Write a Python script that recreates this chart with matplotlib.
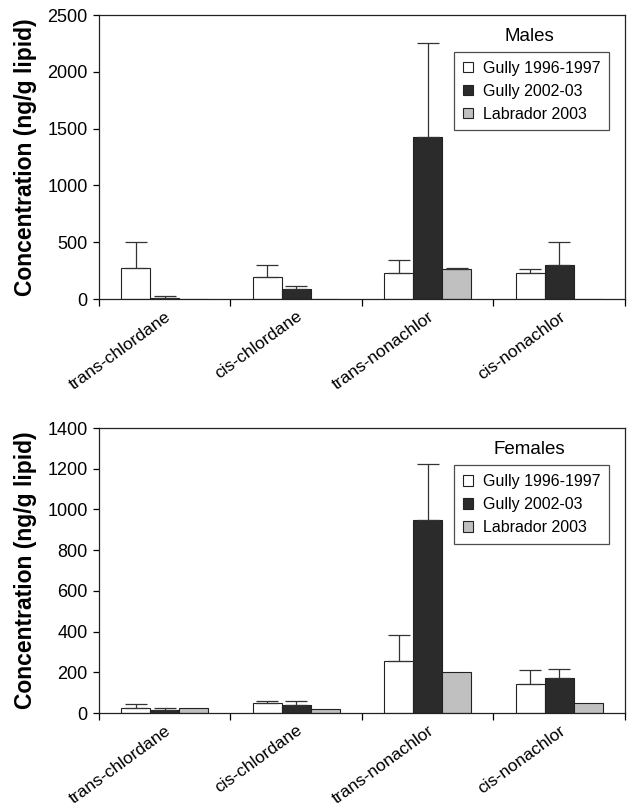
import matplotlib
matplotlib.use("Agg")
import matplotlib.pyplot as plt
import numpy as np

plt.rcParams["font.family"] = ["Liberation Sans", "DejaVu Sans"]

compounds = ["trans-chlordane", "cis-chlordane", "trans-nonachlor", "cis-nonachlor"]
series = ["Gully 1996-1997", "Gully 2002-03", "Labrador 2003"]

# males: means and upper error-bar tops (ng/g lipid)
males_gully96 = [270, 197, 232, 226]
males_gully02 = [12, 85, 1429, 299]
males_lab03 = [2, 2, 261, 2]
males_gully96_top = [505, 300, 343, 261]
males_gully02_top = [29, 114, 2250, 499]
males_lab03_top = [None, None, 273, None]

# females
females_gully96 = [25, 49, 254, 144]
females_gully02 = [16, 41, 949, 172]
females_lab03 = [26, 20, 203, 49]
females_gully96_top = [46, 61, 385, 210]
females_gully02_top = [25, 61, 1223, 216]
females_lab03_top = [None, None, None, None]

colors = ["white", "#2b2b2b", "#c0c0c0"]


def draw_panel(ax, means, tops, ymax, ystep, title):
    x = np.arange(len(compounds))
    width = 0.22
    handles = []
    for i, (vals, top) in enumerate(zip(means, tops)):
        pos = x + (i - 1) * width
        h = ax.bar(pos, vals, width, color=colors[i], edgecolor="#222222",
                   linewidth=0.8, label=series[i], zorder=2)
        handles.append(h)
        for p, v, t in zip(pos, vals, top):
            if t is None:
                continue
            ax.errorbar(p, v, yerr=[[0], [t - v]], fmt="none", ecolor="#333333",
                        elinewidth=0.9, capsize=8, capthick=0.9, zorder=3)
    ax.set_xlim(-0.5, len(compounds) - 0.5)
    ax.set_ylim(0, ymax)
    ax.set_yticks(np.arange(0, ymax + 1, ystep))
    ax.tick_params(axis="y", labelsize=13, direction="out", length=4, width=0.9, pad=4)
    ax.set_xticks(np.arange(len(compounds) + 1) - 0.5)
    ax.set_xticklabels([])
    ax.set_xticks(x, minor=True)
    ax.set_xticklabels(compounds, minor=True, rotation=36, ha="right",
                       rotation_mode="anchor", fontsize=12.5)
    ax.tick_params(axis="x", which="major", direction="out", length=5, width=0.9)
    ax.tick_params(axis="x", which="minor", length=0, pad=7)
    for s in ax.spines.values():
        s.set_linewidth(0.9)
        s.set_color("#222222")
    ax.set_ylabel("Concentration (ng/g lipid)", fontsize=16.5, fontweight="bold")
    ax.yaxis.set_label_coords(-0.118, 0.5)
    leg = ax.legend(handles=handles, loc="upper left", bbox_to_anchor=(0.675, 0.87),
                    fontsize=11.5, frameon=True, fancybox=False, edgecolor="#222222",
                    handlelength=0.65, handleheight=0.65, handletextpad=0.6,
                    borderpad=0.55, labelspacing=0.5, borderaxespad=0)
    leg.get_frame().set_linewidth(0.9)
    ax.text(0.818, 0.923, title, transform=ax.transAxes, ha="center", va="center",
            fontsize=13.5)


fig = plt.figure(figsize=(6.3, 8.11), dpi=100)
ax1 = fig.add_axes([0.157, 0.6313, 0.835, 0.3502])
ax2 = fig.add_axes([0.157, 0.1208, 0.835, 0.3514])

draw_panel(ax1, [males_gully96, males_gully02, males_lab03],
           [males_gully96_top, males_gully02_top, males_lab03_top], 2500, 500, "Males")
draw_panel(ax2, [females_gully96, females_gully02, females_lab03],
           [females_gully96_top, females_gully02_top, females_lab03_top], 1400, 200, "Females")

fig.savefig("out.png", dpi=100)
